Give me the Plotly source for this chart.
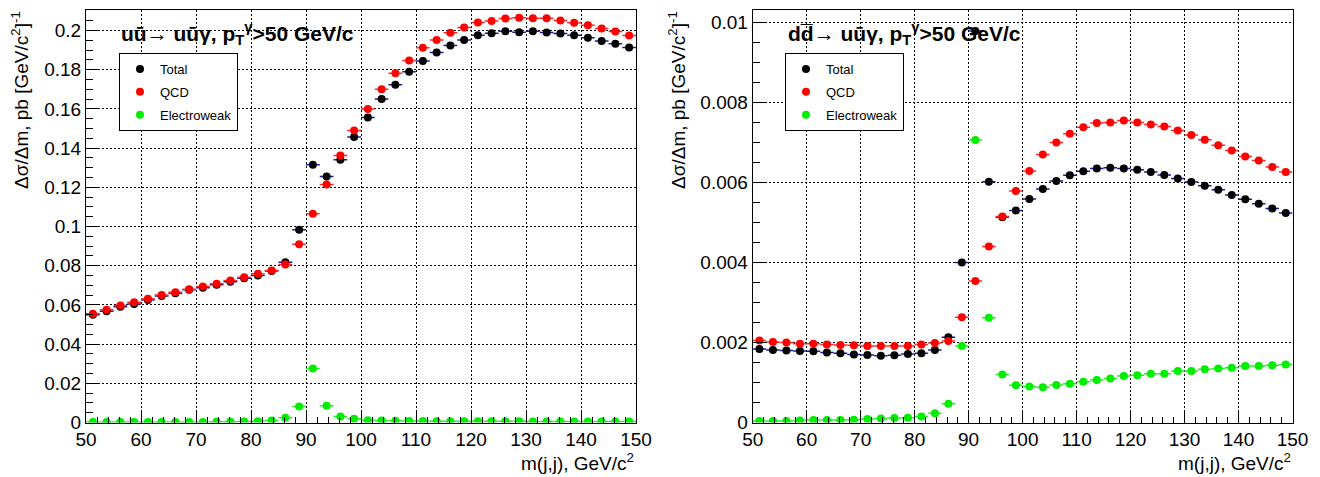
import plotly.graph_objects as go

# ---------------- data ----------------
mass_bins = [51.25, 53.75, 56.25, 58.75, 61.25, 63.75, 66.25, 68.75, 71.25, 73.75,
             76.25, 78.75, 81.25, 83.75, 86.25, 88.75, 91.25, 93.75, 96.25, 98.75,
             101.25, 103.75, 106.25, 108.75, 111.25, 113.75, 116.25, 118.75, 121.25, 123.75,
             126.25, 128.75, 131.25, 133.75, 136.25, 138.75, 141.25, 143.75, 146.25, 148.75]
bin_half_width = 1.25

uu_total = [0.0550, 0.0568, 0.0590, 0.0605, 0.0625, 0.0645, 0.0660, 0.0677, 0.0688, 0.0703,
            0.0718, 0.0736, 0.0750, 0.0773, 0.0818, 0.0983, 0.1315, 0.1255, 0.1340, 0.1456,
            0.1556, 0.1650, 0.1723, 0.1790, 0.1845, 0.1888, 0.1923, 0.1952, 0.1976, 0.1986,
            0.1996, 0.1991, 0.1996, 0.1990, 0.1985, 0.1976, 0.1963, 0.1946, 0.1932, 0.1913]
uu_qcd = [0.0555, 0.0575, 0.0597, 0.0614, 0.0631, 0.0651, 0.0665, 0.0680, 0.0694, 0.0708,
          0.0724, 0.0741, 0.0759, 0.0776, 0.0806, 0.0910, 0.1065, 0.1214, 0.1362, 0.1490,
          0.1600, 0.1700, 0.1782, 0.1847, 0.1912, 0.1952, 0.1988, 0.2015, 0.2041, 0.2049,
          0.2061, 0.2065, 0.2063, 0.2063, 0.2051, 0.2039, 0.2027, 0.2010, 0.1995, 0.1974]
uu_ew = [0.0002, 0.0002, 0.0002, 0.0002, 0.0002, 0.0003, 0.0003, 0.0003, 0.0003, 0.0004,
         0.0004, 0.0005, 0.0007, 0.0010, 0.0024, 0.0082, 0.0276, 0.0085, 0.0030, 0.0019,
         0.0012, 0.0010, 0.0009, 0.0008, 0.0008, 0.0007, 0.0007, 0.0007, 0.0006, 0.0006,
         0.0006, 0.0006, 0.0005, 0.0005, 0.0005, 0.0005, 0.0005, 0.0005, 0.0005, 0.0005]

dd_total = [0.00184, 0.00181, 0.00180, 0.00179, 0.00178, 0.00175, 0.00173, 0.00170, 0.00169, 0.00167,
            0.00168, 0.00171, 0.00173, 0.00181, 0.00213, 0.00400, 0.00979, 0.00602, 0.00513, 0.00530,
            0.00559, 0.00584, 0.00604, 0.00618, 0.00628, 0.00635, 0.00637, 0.00635, 0.00632, 0.00626,
            0.00619, 0.00610, 0.00601, 0.00592, 0.00582, 0.00569, 0.00558, 0.00547, 0.00535, 0.00524]
dd_qcd = [0.00205, 0.00201, 0.00200, 0.00197, 0.00197, 0.00195, 0.00194, 0.00193, 0.00191, 0.00191,
          0.00191, 0.00191, 0.00195, 0.00199, 0.00204, 0.00263, 0.00354, 0.00440, 0.00515, 0.00579,
          0.00629, 0.00670, 0.00700, 0.00722, 0.00738, 0.00749, 0.00750, 0.00755, 0.00750, 0.00745,
          0.00740, 0.00730, 0.00719, 0.00707, 0.00693, 0.00680, 0.00665, 0.00655, 0.00639, 0.00626]
dd_ew = [0.00004, 0.00004, 0.00004, 0.00005, 0.00006, 0.00006, 0.00006, 0.00007, 0.00009, 0.00010,
         0.00011, 0.00012, 0.00015, 0.00023, 0.00047, 0.00191, 0.00706, 0.00262, 0.00120, 0.00093,
         0.00090, 0.00088, 0.00094, 0.00097, 0.00102, 0.00106, 0.00110, 0.00116, 0.00118, 0.00122,
         0.00122, 0.00129, 0.00129, 0.00133, 0.00135, 0.00137, 0.00141, 0.00141, 0.00143, 0.00145]

series_names = ["Total", "QCD", "Electroweak"]
marker_colors = ["#000000", "#ff0000", "#00ee00"]
bar_colors = ["#1c1ca0", "#ff2a2a", "#22ee22"]

panel_titles = ["<b>u\u016b\u2192 u\u016b\u03b3, p<sub>T</sub><sup>\u03b3</sup>>50 GeV/c</b>",
                "<b>dd\u0305\u2192 u\u016b\u03b3, p<sub>T</sub><sup>\u03b3</sup>>50 GeV/c</b>"]
x_title = "m(j,j), GeV/c<sup>2</sup>"
y_title = "\u0394\u03c3/\u0394m, pb [GeV/c<sup>2</sup>]<sup>-1</sup>"

# ---------------- figure ----------------
OFF = 8  # default page body margin
W, H = 1320 - OFF, 477 - OFF
FONT = "Liberation Sans, Arial, Helvetica, sans-serif"

fig = go.Figure()

panels = [
    dict(vals=[uu_total, uu_qcd, uu_ew], xa="x", ya="y", legend="legend"),
    dict(vals=[dd_total, dd_qcd, dd_ew], xa="x2", ya="y2", legend="legend2"),
]
for p in panels:
    for i, name in enumerate(series_names):
        fig.add_trace(go.Scatter(
            x=mass_bins, y=p["vals"][i], mode="markers", name=name,
            xaxis=p["xa"], yaxis=p["ya"], legend=p["legend"], legendgroup=p["legend"] + name,
            marker=dict(color=marker_colors[i], size=8, line=dict(width=0)),
            error_x=dict(type="constant", value=bin_half_width, color=bar_colors[i],
                         thickness=1.5, width=0),
            cliponaxis=True,
        ))

# pixel geometry (window coordinates of the reference)
L1, R1 = 86, 636
L2, R2 = 752.7, 1292.5
TOP, BOT = 10, 422.5


def px(xp):
    return (xp - OFF) / W


def py(yp):
    return 1 - (yp - OFF) / H


axis_common = dict(
    showline=True, linecolor="black", linewidth=1, mirror=True,
    ticks="inside", ticklen=12, tickwidth=1, tickcolor="black",
    showgrid=True, gridcolor="black", gridwidth=1, griddash="2px,2px",
    zeroline=False, automargin=False,
    tickfont=dict(family=FONT, size=19, color="black"),
)

legend_common = dict(
    xanchor="left", yanchor="top",
    bgcolor="white", bordercolor="black", borderwidth=1,
    font=dict(family=FONT, size=13, color="black"),
    tracegroupgap=3, traceorder="grouped", itemwidth=30,
)

fig.update_layout(
    width=W, height=H,
    margin=dict(l=0, r=0, t=0, b=0, pad=0, autoexpand=False),
    paper_bgcolor="white", plot_bgcolor="white",
    font=dict(family=FONT, color="black"),
    xaxis=dict(domain=[px(L1), px(R1)], range=[50, 150], dtick=10, anchor="y",
               minor=dict(dtick=2, ticklen=6, ticks="inside", tickcolor="black", showgrid=False),
               **axis_common),
    yaxis=dict(domain=[py(BOT), py(TOP)], range=[0, (BOT - TOP) / 1960.0], dtick=0.02, anchor="x",
               minor=dict(dtick=0.005, ticklen=7, ticks="inside", tickcolor="black", showgrid=False),
               **{**axis_common, "ticklen": 14}),
    xaxis2=dict(domain=[px(L2), px(R2)], range=[50, 150], dtick=10, anchor="y2",
                minor=dict(dtick=2, ticklen=6, ticks="inside", tickcolor="black", showgrid=False),
                **axis_common),
    yaxis2=dict(domain=[py(BOT), py(TOP)], range=[0, (BOT - TOP) / 40000.0], dtick=0.002, anchor="x2",
                minor=dict(dtick=0.0005, ticklen=7, ticks="inside", tickcolor="black", showgrid=False),
                **{**axis_common, "ticklen": 14}),
    legend=dict(x=px(119), y=py(53), **legend_common),
    legend2=dict(x=px(785), y=py(53), **legend_common),
    showlegend=True,
)

annotations = []
for (lx, rx), title in zip([(L1, R1), (L2, R2)], panel_titles):
    annotations.append(dict(
        xref="paper", yref="paper", x=px(lx + 33), y=py(33), xanchor="left", yanchor="middle",
        text=title, showarrow=False, font=dict(family=FONT, size=21, color="black")))
    annotations.append(dict(
        xref="paper", yref="paper", x=px(rx), y=py(462), xanchor="right", yanchor="middle",
        text=x_title, showarrow=False, font=dict(family=FONT, size=19, color="black")))
for xc in [20, 677]:
    annotations.append(dict(
        xref="paper", yref="paper", x=px(xc), y=py(9), xanchor="center", yanchor="top",
        text=y_title, textangle=-90, showarrow=False,
        font=dict(family=FONT, size=19, color="black")))
fig.update_layout(annotations=annotations)

fig.write_html("out.html")
